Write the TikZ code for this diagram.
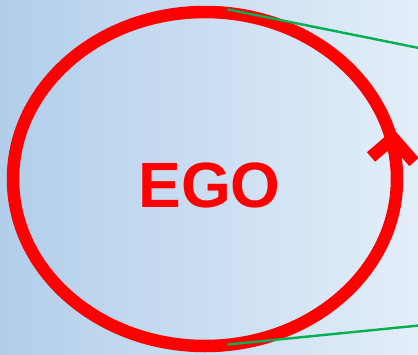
\documentclass[tikz,border=0pt]{standalone}
\usepackage{fontspec}
\setmainfont{Liberation Sans}
\usetikzlibrary{calc, positioning}
\definecolor{skyl}{HTML}{B2CEEA}
\definecolor{skyr}{HTML}{E3EEF9}
\definecolor{ring}{HTML}{FF0000}
\definecolor{lead}{HTML}{00B050}
\tikzset{rg/.style={ring,line width=12.5pt}, ld/.style={lead,line width=2.4pt,line cap=round}}

\begin{document}
\begin{tikzpicture}[x=1pt,y=-1pt]
  \useasboundingbox (0,0) rectangle (418,354);
  \shade[left color=skyl,right color=skyr] (0,0) rectangle (418,354);
  \begin{scope}\clip (0,0) rectangle (418,354);
     \draw[rg] (205,179) ellipse [x radius=192, y radius=167];
     \draw[rg,miter limit=4,line join=miter] (371,157)--(393,138)--(414,162);
     \coordinate (tl) at (228,9.5); \coordinate (tr) at (424,49);
     \coordinate (bl) at (228,344.5); \coordinate (br) at (424,325);
     \draw[ld] (tl)--(tr);
     \draw[ld] (bl)--(br);\end{scope}
  \node[ring,inner sep=0pt,font=\bfseries\fontsize{64}{64}\selectfont] (ego) at (209.5,185) {EGO};
\end{tikzpicture}
\end{document}
